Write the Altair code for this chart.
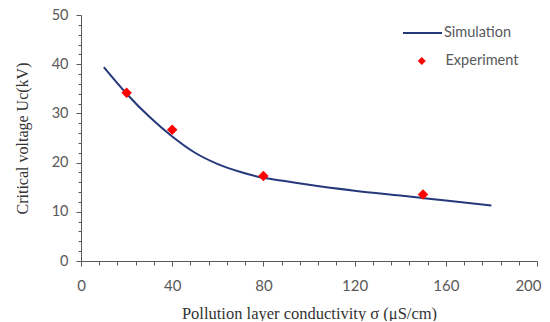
import altair as alt
import pandas as pd

# Simulation curve
sim_x = [10, 20, 30, 40, 50, 60, 70, 80, 90, 100, 120, 140, 150, 160, 180]
sim_y = [39.4, 34.0, 29.3, 25.3, 22.0, 19.7, 18.1, 16.9, 16.2, 15.5, 14.3, 13.3, 12.8, 12.3, 11.3]

# Experiment points
exp_x = [20, 40, 80, 150]
exp_y = [34.2, 26.7, 17.3, 13.5]

sim_color = "#24387a"
exp_color = "#ff0000"

x_ticks = list(range(0, 201, 8))
y_ticks = list(range(0, 51, 2))

sim_df = pd.DataFrame({"x": sim_x, "y": sim_y, "series": "Simulation"})
exp_df = pd.DataFrame({"x": exp_x, "y": exp_y, "series": "Experiment"})

label_font = "Lato"
title_font = "Liberation Serif"
gray = "#595959"

x_enc = alt.X(
    "x:Q",
    scale=alt.Scale(domain=[0, 200], nice=False, zero=False),
    axis=alt.Axis(
        values=x_ticks,
        labelExpr="datum.value % 40 === 0 ? datum.label : ''",
        labelOverlap=False,
        labelFlush=False,
        labelAlign={"condition": {"test": "datum.value === 200", "value": "right"}, "value": "center"},
        labelOffset={"condition": {"test": "datum.value === 200", "value": 4}, "value": 0},
        grid=False,
        tickSize={"condition": {"test": "datum.value % 40 === 0", "value": 5}, "value": 4},
        tickColor=gray,
        domainColor=gray,
        labelColor=gray,
        labelFont=label_font,
        labelFontSize=15,
        labelPadding=12,
        title="Pollution layer conductivity σ (μS/cm)",
        titleFont=title_font,
        titleFontSize=16.5,
        titleFontWeight="normal",
        titleColor="#333333",
        titlePadding=12,
    ),
)
y_enc = alt.Y(
    "y:Q",
    scale=alt.Scale(domain=[0, 50], nice=False),
    axis=alt.Axis(
        values=y_ticks,
        labelExpr="datum.value % 10 === 0 ? datum.label : ''",
        labelOverlap=False,
        labelFlush=False,
        grid=False,
        tickSize={"condition": {"test": "datum.value % 10 === 0", "value": 5}, "value": 3},
        tickColor=gray,
        domainColor=gray,
        labelColor=gray,
        labelFont=label_font,
        labelFontSize=14.5,
        labelPadding=8,
        title="Critical voltage Uc(kV)",
        titleFont=title_font,
        titleFontSize=16,
        titleFontWeight="normal",
        titleColor="#333333",
        titlePadding=21,
    ),
)

line = alt.Chart(sim_df).mark_line(
    interpolate="monotone", strokeWidth=2
).encode(
    x=x_enc,
    y=y_enc,
    color=alt.Color(
        "series:N",
        scale=alt.Scale(domain=["Simulation"], range=[sim_color]),
        legend=alt.Legend(
            title=None,
            orient="none",
            legendX=321,
            legendY=-2.5,
            symbolType="stroke",
            symbolSize=1521,
            symbolStrokeWidth=2,
            labelOffset=1,
            labelFont=label_font,
            labelFontSize=14.5,
            labelColor=gray,
        ),
    ),
)

points = alt.Chart(exp_df).mark_point(
    shape="diamond", filled=True, size=110, opacity=1
).encode(
    x=x_enc,
    y=y_enc,
    color=alt.Color(
        "series:N",
        scale=alt.Scale(domain=["Experiment"], range=[exp_color]),
        legend=alt.Legend(
            title=None,
            orient="none",
            legendX=333.5,
            legendY=38.75,
            symbolType="diamond",
            symbolSize=64,
            symbolOpacity=1,
            labelOffset=16.5,
            labelFont=label_font,
            labelFontSize=14.5,
            labelColor=gray,
        ),
    ),
)

chart = (
    alt.layer(line, points)
    .resolve_scale(color="independent")
    .properties(
        width=456,
        height=246,
        autosize=alt.AutoSizeParams(type="none"),
        padding={"left": 73, "top": 7, "right": 5, "bottom": 60},
        background="white",
    )
    .configure_view(stroke=None)
)

chart.save("out.html", embed_options={"renderer": "svg", "actions": False})
